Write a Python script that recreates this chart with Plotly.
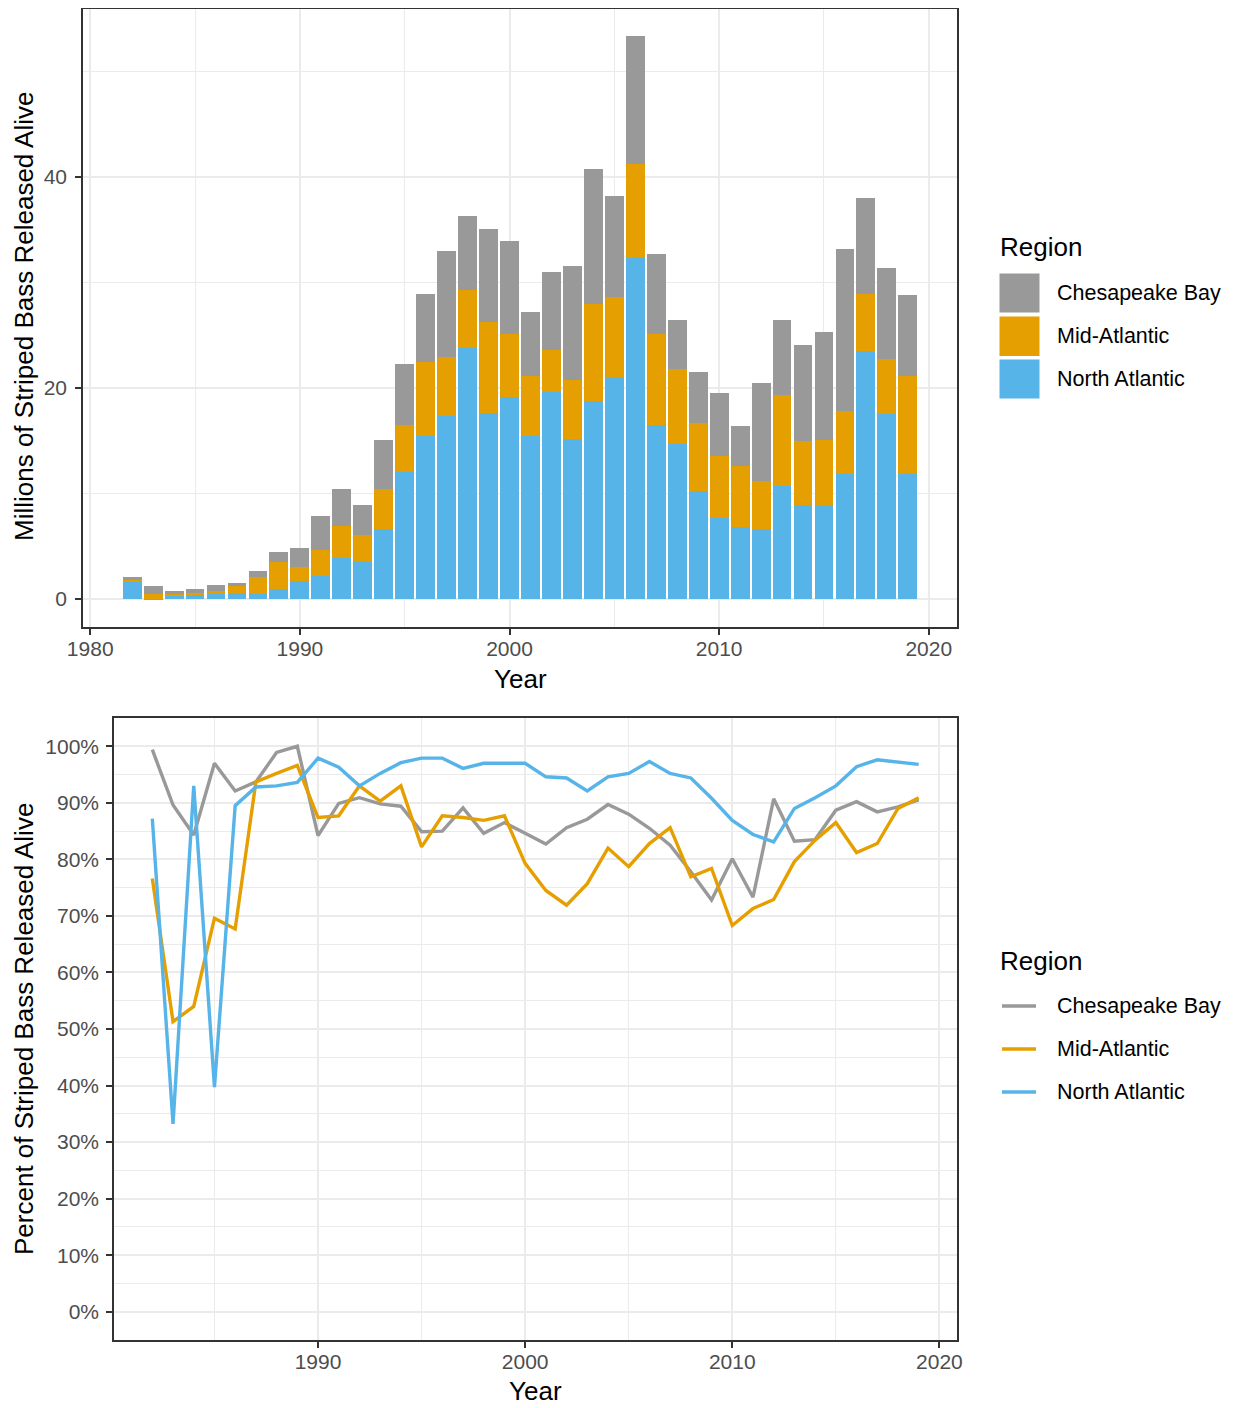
import plotly.graph_objects as go

# ---------------- data ----------------
years = list(range(1982, 2020))
regions = ["Chesapeake Bay", "Mid-Atlantic", "North Atlantic"]
colors = {"Chesapeake Bay": "#999999", "Mid-Atlantic": "#E69F00", "North Atlantic": "#56B4E9"}

# Millions released alive (stack components)
north_atlantic_mil = [1.61, 0.06, 0.31, 0.38, 0.47, 0.57, 0.54, 0.98, 1.71, 2.21,
                      3.92, 3.54, 6.64, 12.07, 15.45, 17.38, 23.79, 17.70, 19.21, 15.51,
                      19.62, 15.20, 18.80, 21.01, 32.35, 16.57, 14.72, 10.24, 7.74, 6.82,
                      6.64, 10.77, 8.91, 8.85, 11.91, 23.54, 17.60, 11.91]
mid_atlantic_mil = [0.19, 0.44, 0.23, 0.22, 0.29, 0.73, 1.55, 2.56, 1.39, 2.47,
                    3.03, 2.53, 3.79, 4.50, 7.05, 5.56, 5.59, 8.65, 5.99, 5.63,
                    4.05, 5.56, 9.19, 7.71, 8.95, 8.58, 7.15, 6.49, 5.88, 5.82,
                    4.54, 8.60, 6.07, 6.25, 5.91, 5.46, 5.15, 9.26]
chesapeake_mil = [0.32, 0.73, 0.28, 0.41, 0.57, 0.25, 0.60, 0.95, 1.80, 3.25,
                  3.48, 2.90, 4.67, 5.73, 6.47, 10.14, 6.99, 8.75, 8.76, 6.13,
                  7.39, 10.90, 12.86, 9.54, 12.16, 7.60, 4.67, 4.85, 5.94, 3.82,
                  9.36, 7.14, 9.10, 10.21, 15.38, 9.07, 8.69, 7.65]

# Percent released alive
chesapeake_pct = [99.4, 89.6, 84.3, 97.0, 92.1, 93.7, 98.9, 100.0, 84.2, 89.9,
                  90.9, 89.8, 89.4, 84.9, 85.0, 89.1, 84.6, 86.5, 84.6, 82.7,
                  85.6, 87.1, 89.7, 88.0, 85.5, 82.5, 77.8, 72.8, 80.1, 73.3,
                  90.7, 83.2, 83.5, 88.7, 90.2, 88.4, 89.3, 90.5]
mid_atlantic_pct = [76.6, 51.3, 54.0, 69.6, 67.7, 93.7, 95.2, 96.6, 87.4, 87.7,
                    93.0, 90.3, 93.0, 82.2, 87.7, 87.4, 86.9, 87.7, 79.3, 74.5,
                    71.9, 75.7, 82.0, 78.7, 82.8, 85.6, 76.9, 78.4, 68.3, 71.3,
                    72.9, 79.6, 83.4, 86.5, 81.2, 82.8, 89.0, 90.9]
north_atlantic_pct = [87.2, 33.2, 93.0, 39.7, 89.5, 92.8, 93.0, 93.6, 97.9, 96.3,
                      93.0, 95.2, 97.1, 97.9, 97.9, 96.1, 97.0, 97.0, 97.0, 94.6,
                      94.4, 92.1, 94.6, 95.2, 97.3, 95.2, 94.4, 90.8, 86.9, 84.4,
                      83.1, 89.0, 90.9, 93.0, 96.4, 97.6, 97.2, 96.8]

# ---------------- layout helpers ----------------
OFF = 8                      # page body margin
W, H = 1233 - OFF, 1408 - OFF
FONT = "Liberation Sans, Arial, sans-serif"


def px(x):
    return min(1.0, max(0.0, (x - OFF) / W))


def py(y):
    return min(1.0, max(0.0, 1 - (y - OFF) / H))


fig = go.Figure()

# top: stacked bars (bottom -> top: North, Mid, Chesapeake)
for name, vals in [("North Atlantic", north_atlantic_mil),
                   ("Mid-Atlantic", mid_atlantic_mil),
                   ("Chesapeake Bay", chesapeake_mil)]:
    fig.add_trace(go.Bar(x=years, y=vals, name=name, width=0.9,
                         marker=dict(color=colors[name], line=dict(width=0)),
                         xaxis="x", yaxis="y", showlegend=False))

# bottom: lines
for name, vals in [("Chesapeake Bay", chesapeake_pct),
                   ("Mid-Atlantic", mid_atlantic_pct),
                   ("North Atlantic", north_atlantic_pct)]:
    fig.add_trace(go.Scatter(x=years, y=vals, name=name, mode="lines",
                             line=dict(color=colors[name], width=3.4),
                             xaxis="x2", yaxis="y2", showlegend=False))

grid_major = "#EBEBEB"
axis_common = dict(
    showline=True, linecolor="#333333", linewidth=1.5, mirror=True,
    ticks="outside", ticklen=6, tickwidth=1.5, tickcolor="#333333",
    tickfont=dict(family=FONT, size=21, color="#4D4D4D"),
    showgrid=True, gridcolor=grid_major, gridwidth=1.6,
    zeroline=False, automargin=False,
)
minor_common = dict(showgrid=True, gridcolor=grid_major, gridwidth=0.8, ticks="")

top_x = [83, 957]
top_y = [8.5, 627]
bot_x = [114, 957]
bot_y = [718, 1340]

fig.update_layout(
    width=W, height=H,
    margin=dict(l=0, r=0, t=0, b=0),
    paper_bgcolor="white", plot_bgcolor="white",
    barmode="stack", bargap=0,
    showlegend=False,
    font=dict(family=FONT, color="black"),
    xaxis=dict(domain=[px(top_x[0]), px(top_x[1])], anchor="y",
               range=[1979.655, 2021.345], tick0=1980, dtick=10, ticklabelstandoff=-4,
               minor=dict(dtick=5, tick0=1980, **minor_common), **axis_common),
    yaxis=dict(domain=[py(top_y[1]), py(top_y[0])], anchor="x",
               range=[-2.673, 55.99], tick0=0, dtick=20, ticklabelstandoff=4,
               minor=dict(dtick=10, tick0=0, **minor_common), **axis_common),
    xaxis2=dict(domain=[px(bot_x[0]), px(bot_x[1])], anchor="y2",
                range=[1980.15, 2020.85], tick0=1980, dtick=10, ticklabelstandoff=-4,
                minor=dict(dtick=5, tick0=1980, **minor_common), **axis_common),
    yaxis2=dict(domain=[py(bot_y[1]), py(bot_y[0])], anchor="x2",
                range=[-5, 105], tick0=0, dtick=10, ticksuffix="%", ticklabelstandoff=3,
                minor=dict(dtick=5, tick0=0, **minor_common), **axis_common),
)

annotations = []
shapes = []


def text(x, y, s, size, xanchor="center", angle=0, color="black"):
    annotations.append(dict(x=px(x), y=py(y), xref="paper", yref="paper", text=s,
                            showarrow=False, xanchor=xanchor, yanchor="middle",
                            textangle=angle, font=dict(family=FONT, size=size, color=color)))


# axis titles
text(520, 679, "Year", 26)
text(535.5, 1391, "Year", 26)
text(24, 317, "Millions of Striped Bass Released Alive", 26, angle=-90)
text(24, 1029, "Percent of Striped Bass Released Alive", 26, angle=-90)

# top legend (fill keys)
text(998, 247, "Region", 26, xanchor="left")
key_rows = [(273.5, 312.5, "Chesapeake Bay"), (316.5, 356, "Mid-Atlantic"), (359.5, 398.5, "North Atlantic")]
for y0, y1, name in key_rows:
    shapes.append(dict(type="rect", xref="paper", yref="paper",
                       x0=px(999.5), x1=px(1039.5), y0=py(y1), y1=py(y0),
                       fillcolor=colors[name], line=dict(width=0)))
    text(1055, (y0 + y1) / 2, name, 21.5, xanchor="left")

# bottom legend (line keys)
text(998, 961, "Region", 26, xanchor="left")
for yl, name in [(1006, "Chesapeake Bay"), (1049, "Mid-Atlantic"), (1092, "North Atlantic")]:
    shapes.append(dict(type="line", xref="paper", yref="paper",
                       x0=px(1002), x1=px(1036), y0=py(yl), y1=py(yl),
                       line=dict(color=colors[name], width=3.4)))
    text(1055, yl, name, 21.5, xanchor="left")

fig.update_layout(annotations=annotations, shapes=shapes)

fig.write_html("out.html")
